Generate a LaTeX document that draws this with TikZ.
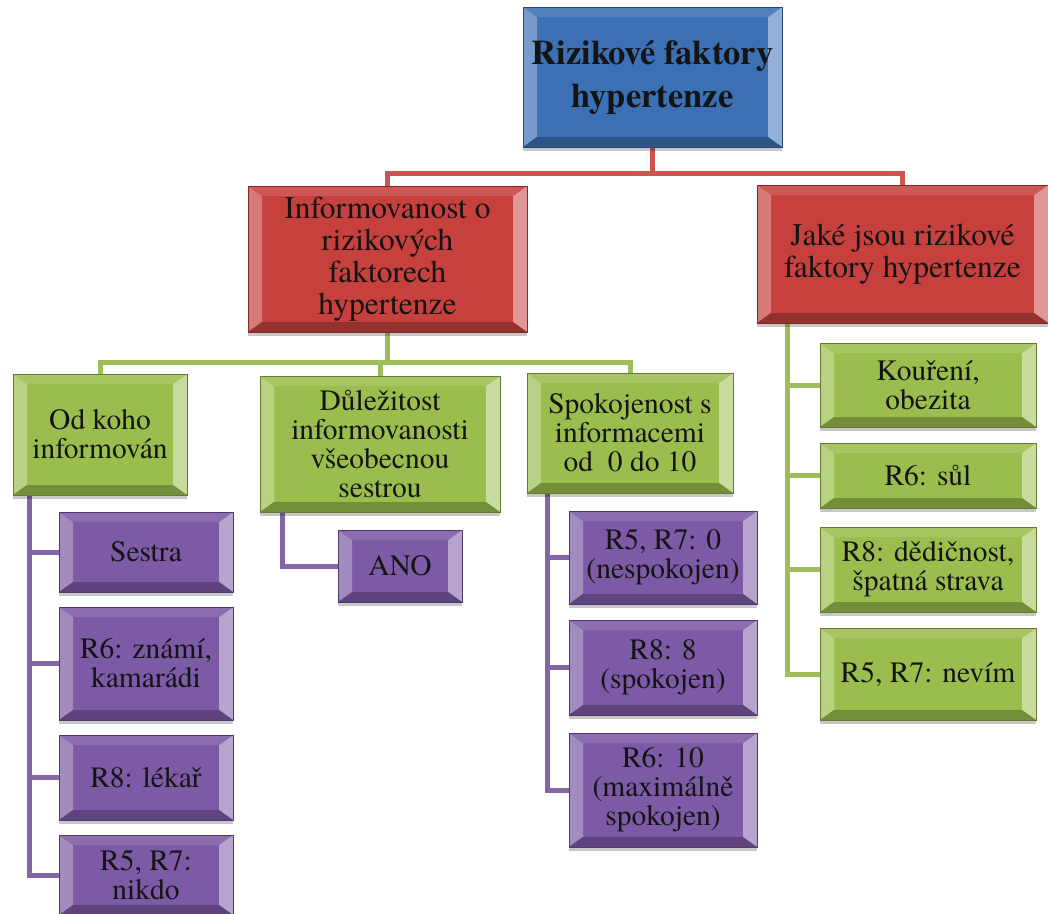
\documentclass[tikz,border=0pt]{standalone}
\usepackage{fontspec}
\setmainfont{texgyretermes}[Extension=.otf, UprightFont=*-regular, BoldFont=*-bold, ItalicFont=*-italic, BoldItalicFont=*-bolditalic]
\usetikzlibrary{backgrounds,shadows}

\definecolor{rootblue}{HTML}{3C70B5}
\definecolor{lvred}{HTML}{C6403D}
\definecolor{lvgreen}{HTML}{9BBD4E}
\definecolor{lvpurple}{HTML}{7C5AA5}
\definecolor{redline}{HTML}{CB5350}
\definecolor{greenline}{HTML}{9EBE5A}
\definecolor{purpline}{HTML}{8466A6}

\tikzset{
  % raised bevel faces drawn inside a box
  bevel/.style={
    path picture={
      \coordinate (bSW) at (path picture bounding box.south west);
      \coordinate (bNE) at (path picture bounding box.north east);
      \coordinate (bNW) at (path picture bounding box.north west);
      \coordinate (bSE) at (path picture bounding box.south east);
      \coordinate (iSW) at ([shift={(14pt,10pt)}]bSW);
      \coordinate (iNE) at ([shift={(-14pt,-10pt)}]bNE);
      \coordinate (iNW) at ([shift={(14pt,-10pt)}]bNW);
      \coordinate (iSE) at ([shift={(-14pt,10pt)}]bSE);
      \fill[#1!70!white] (bNW) -- (iNW) -- (iSW) -- (bSW) -- cycle;
      \fill[#1!55!white] (bNE) -- (iNE) -- (iSE) -- (bSE) -- cycle;
      \fill[#1!88!white] (bNW) -- (bNE) -- (iNE) -- (iNW) -- cycle;
      \fill[#1!75!black] (bSW) -- (bSE) -- (iSE) -- (iSW) -- cycle;
    }
  },
  box/.style={
    rectangle, inner sep=0pt, align=center, text=black!92,
    fill=#1, draw=#1!65!black, line width=0.6pt, bevel=#1,
    drop shadow={shadow xshift=0pt, shadow yshift=-4pt, fill=black, opacity=0.22}
  },
  sz/.style 2 args={minimum width=#1pt, minimum height=#2pt},
  toptxt/.style={font=\fontsize{34.5}{43}\selectfont\bfseries},
  redtxt/.style={font=\fontsize{31.5}{32}\selectfont},
  smalltxt/.style={font=\fontsize{29.5}{29}\selectfont},
  link/.style={draw=#1, line width=5pt}
}

\begin{document}
\begin{tikzpicture}[x=1pt,y=-1pt]
\useasboundingbox (0,0) rectangle (1048,913);

% root
\node[box=rootblue, sz={259}{140}, toptxt] (root) at (652.5,77) {Rizikové faktory\\hypertenze};

% second level
\node[box=lvred, sz={279}{146}, redtxt] (inf) at (387.5,259) {Informovanost o\\rizikových\\faktorech\\hypertenze};
\node[box=lvred, sz={291}{138}, redtxt] (jake) at (902.5,254) {Jaké jsou rizikové\\faktory hypertenze};

% third level under the left red box
\node[box=lvgreen, sz={174}{121}, smalltxt] (odkoho) at (100,434.5) {Od koho\\informován};
\node[box=lvgreen, sz={240}{136}, smalltxt] (dulez) at (380,444) {Důležitost\\informovanosti\\všeobecnou\\sestrou};
\node[box=lvgreen, sz={206}{120}, smalltxt] (spok) at (630,433) {Spokojenost s\\informacemi\\od~ 0 do 10};

% answers: who informed
\node[box=lvpurple, sz={174}{80}, smalltxt] (sestra) at (146,552) {Sestra};
\node[box=lvpurple, sz={174}{113}, smalltxt] (znami) at (146,663.5) {R6: známí,\\kamarádi};
\node[box=lvpurple, sz={174}{85}, smalltxt] (lekar) at (146,777.5) {R8: lékař};
\node[box=lvpurple, sz={174}{80}, smalltxt] (nikdo) at (146,875) {R5, R7:\\nikdo};

% answer: importance
\node[box=lvpurple, sz={124}{72}, smalltxt] (ano) at (400,566) {ANO};

% answers: satisfaction
\node[box=lvpurple, sz={188}{93}, smalltxt] (nesp) at (663,557.5) {R5, R7: 0\\(nespokojen)};
\node[box=lvpurple, sz={188}{95}, smalltxt] (spoj) at (663,667.5) {R8: 8\\(spokojen)};
\node[box=lvpurple, sz={188}{114}, smalltxt] (maxs) at (663,790) {R6: 10\\(maximálně\\spokojen)};

% answers: risk factors
\node[box=lvgreen, sz={216}{84}, smalltxt] (kour) at (928,385) {Kouření,\\obezita};
\node[box=lvgreen, sz={216}{65}, smalltxt] (sul) at (928,475.5) {R6: sůl};
\node[box=lvgreen, sz={216}{85}, smalltxt] (dedic) at (928,569.5) {R8: dědičnost,\\špatná strava};
\node[box=lvgreen, sz={216}{92}, smalltxt] (nevim) at (928,674) {R5, R7: nevím};

% connectors
\coordinate (busA) at (0,173);
\coordinate (busB) at (0,362);
\begin{scope}[on background layer]
  \draw[link=redline] (root.south) -- (root.south |- busA) -| (inf.north);
  \draw[link=redline] (root.south |- busA) -| (jake.north);

  \draw[link=greenline] (inf.south) -- (inf.south |- busB) -| (odkoho.north);
  \draw[link=greenline] (inf.south |- busB) -| (dulez.north);
  \draw[link=greenline] (inf.south |- busB) -| (spok.north);

  \foreach \c in {sestra,znami,lekar,nikdo}
    \draw[link=purpline] ([xshift=17pt]odkoho.south west) |- (\c.west);
  \draw[link=purpline] ([xshift=23pt]dulez.south west) |- (ano.west);
  \foreach \c in {nesp,spoj,maxs}
    \draw[link=purpline] ([xshift=21pt]spok.south west) |- (\c.west);
  \foreach \c in {kour,sul,dedic,nevim}
    \draw[link=greenline] ([xshift=31pt]jake.south west) |- (\c.west);
\end{scope}
\end{tikzpicture}
\end{document}
